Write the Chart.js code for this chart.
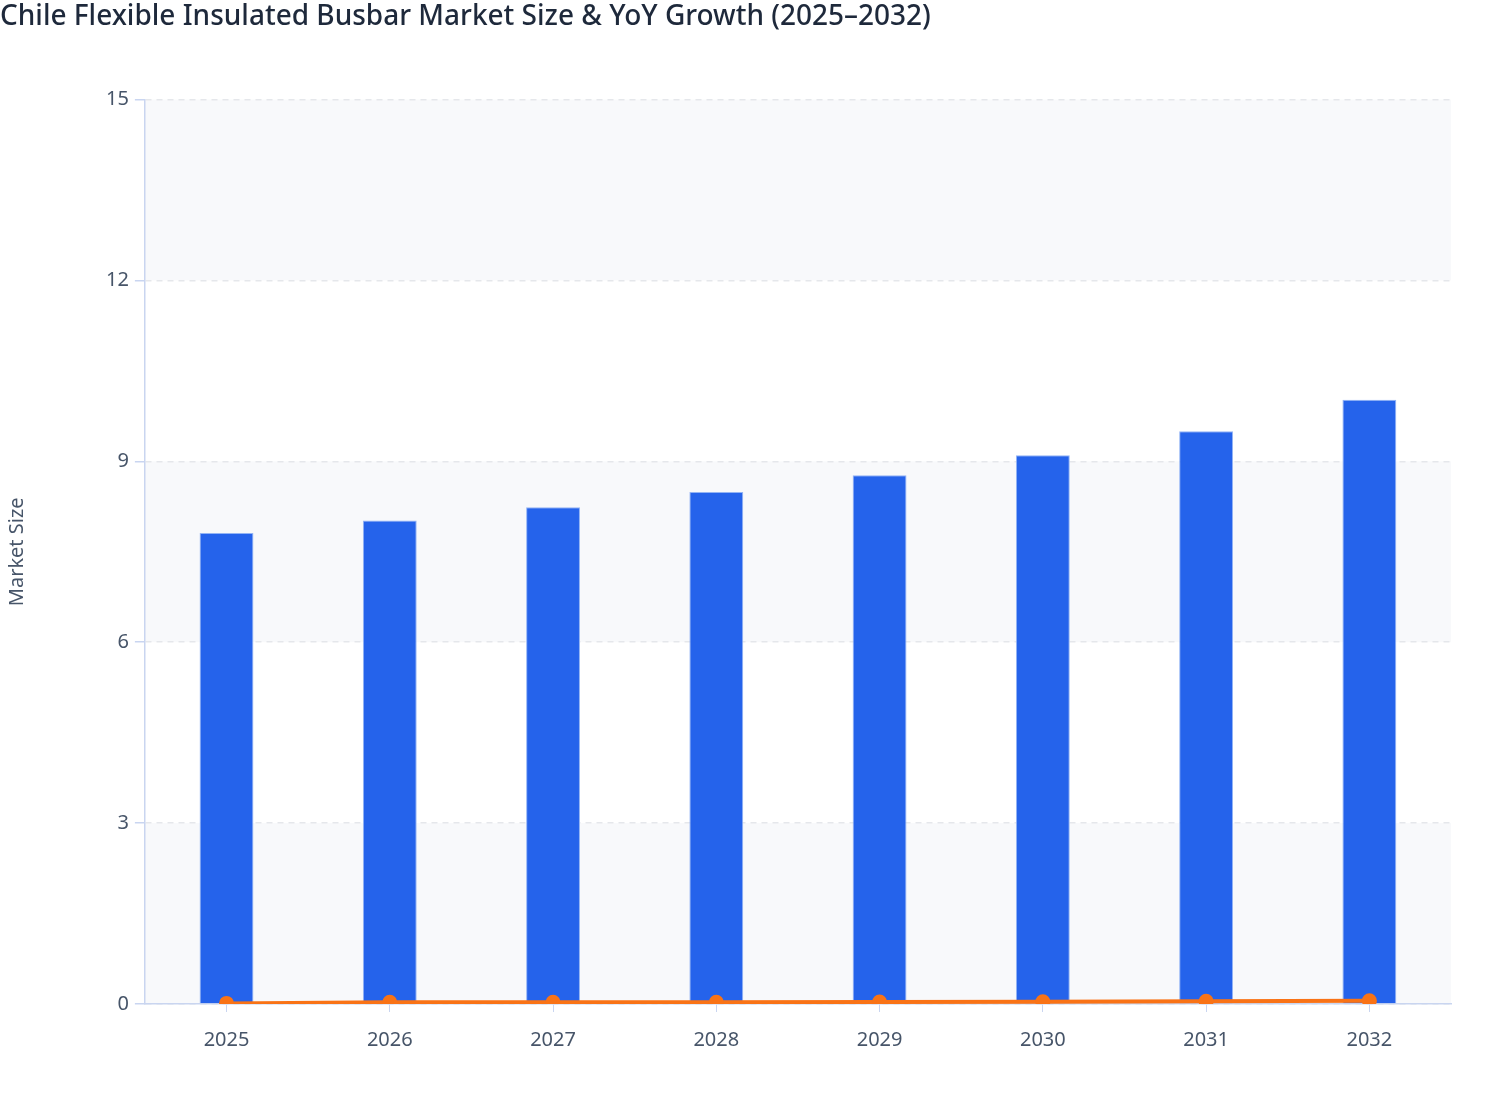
<!DOCTYPE html>
<html>
<head>
<meta charset="utf-8">
<script src="https://cdn.jsdelivr.net/npm/chart.js@4.4.1/dist/chart.umd.min.js"></script>
<style>
  body { margin: 0; background: #ffffff; }
  #wrap { width: 1508px; height: 1120px; }
</style>
</head>
<body>
<div id="wrap"><canvas id="chartOne" width="1508" height="1120"></canvas></div>
<script>
var years = ['2025', '2026', '2027', '2028', '2029', '2030', '2031', '2032'];
var marketSize = [7.81, 8.02, 8.24, 8.49, 8.77, 9.10, 9.50, 10.02];
var yoyGrowth = [0.01, 0.027, 0.027, 0.030, 0.033, 0.038, 0.044, 0.055];
var yTicks = [0, 3, 6, 9, 12, 15];

// alternating shaded bands between y gridlines
var bandPlugin = {
    id: 'bands',
    beforeDraw: function (chart) {
        var ctx = chart.ctx;
        var area = chart.chartArea;
        var y = chart.scales.y;
        ctx.save();
        ctx.fillStyle = '#f8f9fb';
        for (var i = 0; i < yTicks.length - 1; i++) {
            if (i % 2 !== 0) continue;
            var top = y.getPixelForValue(yTicks[i + 1]);
            var bottom = y.getPixelForValue(yTicks[i]);
            ctx.fillRect(area.left, top, area.right - area.left, bottom - top);
        }
        ctx.restore();
    }
};

document.addEventListener('DOMContentLoaded', function () {
    var chartOne = document.getElementById('chartOne');
    var myChart = new Chart(chartOne, {
        type: 'bar',
        data: {
            labels: years,
            datasets: [{
                type: 'line',
                label: 'YoY Growth',
                data: yoyGrowth,
                borderColor: '#f97316',
                backgroundColor: '#f97316',
                borderWidth: 4,
                pointRadius: 5.5,
                pointHoverRadius: 5.5,
                tension: 0,
                order: 0
            }, {
                label: 'Market Size',
                data: marketSize,
                backgroundColor: '#2563eb',
                borderColor: '#93b4f5',
                borderWidth: 1,
                categoryPercentage: 0.33,
                barPercentage: 1,
                order: 1
            }]
        },
        plugins: [bandPlugin],
        options: {
            responsive: false,
            animation: false,
            layout: { padding: { left: 0, right: 57, top: 0, bottom: 52 } },
            plugins: {
                legend: { display: false },
                tooltip: { enabled: false },
                title: {
                    display: true,
                    text: 'Chile Flexible Insulated Busbar Market Size & YoY Growth (2025–2032)',
                    align: 'start',
                    color: '#1e293b',
                    font: { family: 'Noto Sans', size: 28, weight: '500' },
                    padding: { top: 0, bottom: 66 }
                }
            },
            scales: {
                x: {
                    grid: {
                        display: true,
                        offset: false,
                        drawOnChartArea: false,
                        drawTicks: true,
                        tickLength: 8,
                        tickColor: '#c9d5f0'
                    },
                    border: { color: '#c9d5f0', width: 1.5 },
                    ticks: {
                        color: '#475569',
                        font: { family: 'Noto Sans', size: 20 },
                        padding: 16
                    }
                },
                y: {
                    min: 0,
                    max: 15,
                    afterBuildTicks: function (axis) {
                        axis.ticks = yTicks.map(function (v) { return { value: v }; });
                    },
                    grid: {
                        color: '#e5e7eb',
                        tickColor: '#c9d5f0',
                        tickLength: 10,
                        lineWidth: 1.5
                    },
                    border: { color: '#c9d5f0', width: 1.5, dash: [6, 5] },
                    ticks: {
                        color: '#475569',
                        font: { family: 'Noto Sans', size: 20 },
                        padding: 6
                    },
                    title: {
                        display: true,
                        text: 'Market Size',
                        color: '#475569',
                        font: { family: 'Noto Sans', size: 20 },
                        padding: { top: 5, bottom: 71 }
                    }
                }
            }
        }
    });
});
</script>
</body>
</html>
